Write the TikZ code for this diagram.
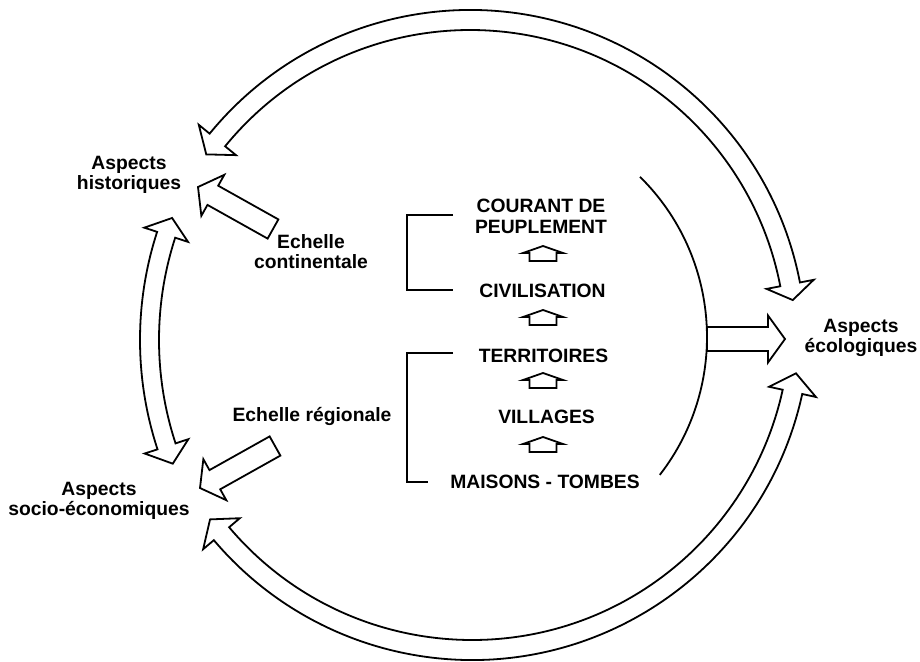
\documentclass[tikz,border=0pt]{standalone}
\usepackage{fontspec}
\setmainfont{Liberation Sans}
\usetikzlibrary{calc}
\tikzset{
  arrowline/.style={draw=black, line width=1.8pt, line join=miter},
  thinline/.style={draw=black, line width=1.8pt},
  bracketline/.style={draw=black, line width=1.4pt},
  lbl/.style={font=\bfseries\fontsize{19.3}{20}\selectfont, align=center, inner sep=0pt, anchor=base},
  uparrow/.pic={\draw[arrowline] (-20,-7) -- (0,0) -- (20,-7) -- (13.5,-7) -- (13.5,-15) -- (-13.5,-15) -- (-13.5,-7) -- cycle;}
}
% curved double-headed block arrow
% #1 centre, #2 inner r, #3 outer r, #4 angle end A, #5 tip A, #6 angle end B, #7 tip B, #8 head half width
\newcommand\dblarc[8]{%
  \pgfmathsetmacro\myRm{(#2+#3)/2}%
  \pgfmathsetmacro\myRa{\myRm+#8}%
  \pgfmathsetmacro\myRb{\myRm-#8}%
  \draw[arrowline,shift={(#1)}] (#6:#3) arc[start angle=#6, end angle=#4, radius=#3]
    -- (#4:\myRa) -- (#5:\myRm) -- (#4:\myRb) -- (#4:#2)
    arc[start angle=#4, end angle=#6, radius=#2]
    -- (#6:\myRb) -- (#7:\myRm) -- (#6:\myRa) -- cycle;}
% straight block arrow: #1 base, #2 tip, #3 shaft half width, #4 head half width, #5 head length
\newcommand\blockarrow[5]{%
  \coordinate (hb) at ($(#2)!#5pt!(#1)$);
  \draw[arrowline] ($(#1)!#3pt!90:(#2)$) -- ($(hb)!#3pt!90:(#2)$) -- ($(hb)!#4pt!90:(#2)$)
    -- (#2) -- ($(hb)!#4pt!-90:(#2)$) -- ($(hb)!#3pt!-90:(#2)$) -- ($(#1)!#3pt!-90:(#2)$) -- cycle;}
\begin{document}
\begin{tikzpicture}[x=1pt,y=1pt]
\useasboundingbox (0,0) rectangle (920,-661);

% labels (base anchor = baseline of the last line)
\node[lbl] (hist) at (129,-189) {Aspects\\historiques};
\node[lbl] (socio) at (99,-515) {Aspects\\socio-économiques};
\node[lbl] (eco) at (861,-352) {Aspects\\écologiques};
\node[lbl] (cont) at (311,-268) {Echelle\\continentale};
\node[lbl] (reg) at (312,-421) {Echelle régionale};
\node[lbl] (courant) at (541,-233) {COURANT DE\\[1pt]PEUPLEMENT};
\node[lbl] (civil) at (542.5,-297) {CIVILISATION};
\node[lbl] (territ) at (543.5,-362) {TERRITOIRES};
\node[lbl] (vill) at (546.5,-423) {VILLAGES};
\node[lbl] (maisons) at (545,-488) {MAISONS - TOMBES};

% small up arrows between levels
\pic at (543,-246) {uparrow};
\pic at (543,-310) {uparrow};
\pic at (543,-373) {uparrow};
\pic at (543,-437) {uparrow};

% brackets
\draw[bracketline] (453,-215) -- (407,-215) -- (407,-290) -- (453,-290);
\draw[bracketline] (453,-353) -- (407,-353) -- (407,-482) -- (428,-482);

% central arc
\coordinate (bigc) at (482,-337);
\draw[thinline] (bigc) ++(45.4:225) arc[start angle=45.4, end angle=-37.8, radius=225];

% arrow to ecological aspects
\coordinate (ecobase) at (707,-339);
\coordinate (ecotip) at (785,-339);
\blockarrow{ecobase}{ecotip}{12}{23.5}{17}

% scale arrows
\coordinate (contbase) at (273,-229);
\coordinate (conttip) at (198,-187);
\blockarrow{contbase}{conttip}{11}{23.5}{17}
\coordinate (regbase) at (275,-446);
\coordinate (regtip) at (200,-488);
\blockarrow{regbase}{regtip}{11}{23.5}{17}

% big curved double arrows
\coordinate (ctop) at (470,-346);
\dblarc{ctop}{316}{336}{140.8}{144}{10.9}{8.1}{24}
\coordinate (cbot) at (472,-322);
\dblarc{cbot}{318}{338}{220.2}{217}{347.7}{351}{24}
\coordinate (cleft) at (490,-340);
\dblarc{cleft}{331}{350}{162}{159}{198.2}{201.3}{23}
\end{tikzpicture}
\end{document}
